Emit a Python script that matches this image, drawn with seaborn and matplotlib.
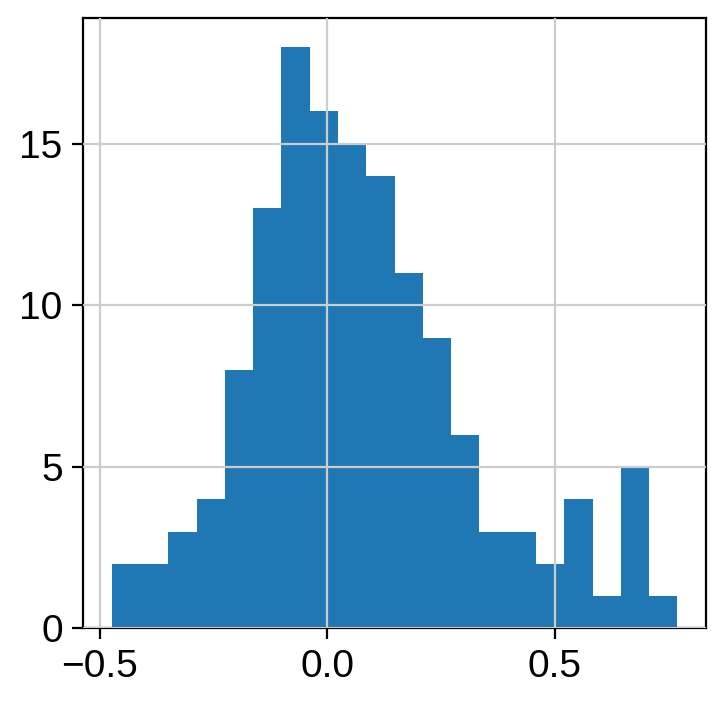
import matplotlib
matplotlib.use("Agg")
import matplotlib.pyplot as plt
import seaborn as sns
import numpy as np
import pandas as pd

bin_lo, bin_hi = -0.474, 0.769
counts = [2, 2, 3, 4, 8, 13, 18, 16, 15, 14, 11, 9, 6, 3, 3, 2, 4, 1, 5, 1]

edges = np.linspace(bin_lo, bin_hi, len(counts) + 1)
centers = (edges[:-1] + edges[1:]) / 2
df = pd.DataFrame({"x": centers, "w": counts})

sns.set_style("whitegrid")
plt.rcParams['font.family'] = ['Liberation Sans', 'DejaVu Sans']
plt.rcParams['font.size'] = 14

fig, ax = plt.subplots(figsize=(3.63, 3.515), dpi=200)
sns.histplot(data=df, x="x", weights="w", bins=len(counts),
             binrange=(bin_lo, bin_hi), ax=ax, color="#1f77b4",
             alpha=1, edgecolor="none", linewidth=0)
ax.set_axisbelow(False)
ax.grid(True, color="#cccccc", linewidth=0.8)
for s in ax.spines.values():
    s.set_color("black")
    s.set_linewidth(0.8)
ax.set_xlabel("")
ax.set_ylabel("")
ax.set_xticks([-0.5, 0.0, 0.5])
ax.set_yticks([0, 5, 10, 15])
ax.set_ylim(0, 18.9)
ax.tick_params(labelsize=14, length=4, color="black", labelcolor="black",
               left=True, bottom=True)
fig.subplots_adjust(left=0.115, right=0.972, top=0.975, bottom=0.106)
fig.savefig("out.png", dpi=200)
